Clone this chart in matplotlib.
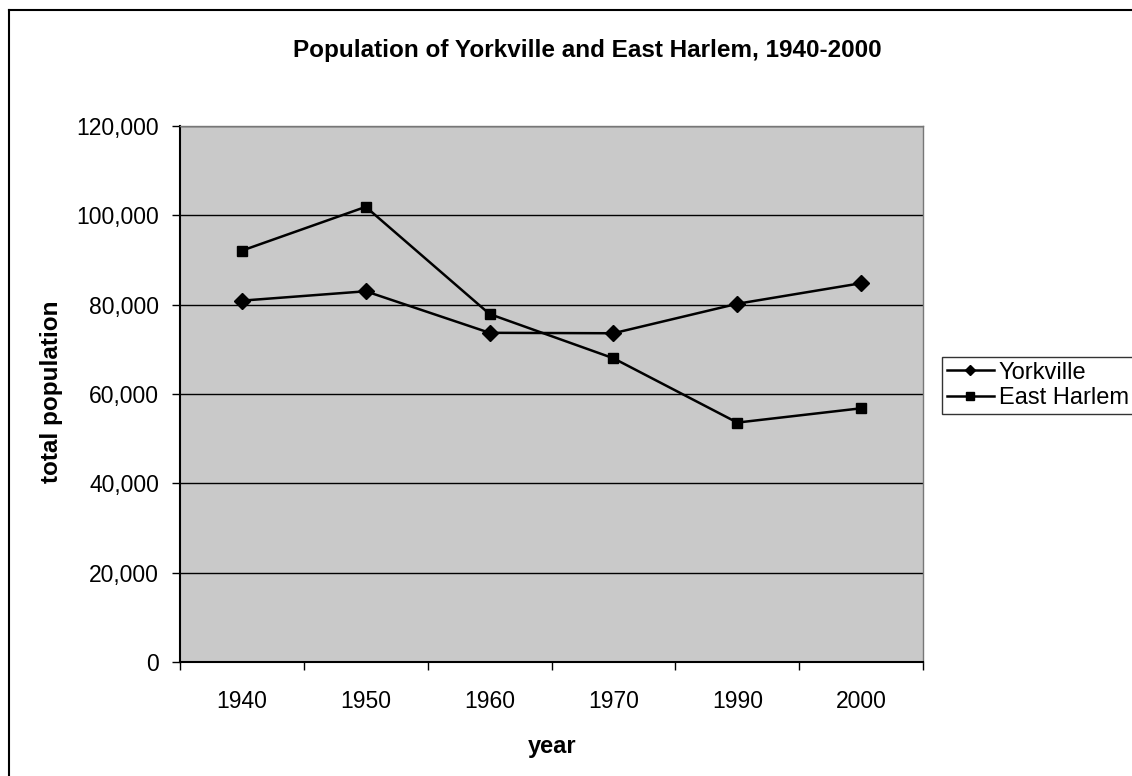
import matplotlib.pyplot as plt
from matplotlib.lines import Line2D
from matplotlib.ticker import FuncFormatter

plt.rcParams['font.family'] = ['Liberation Sans', 'DejaVu Sans']

years = ['1940', '1950', '1960', '1970', '1990', '2000']
yorkville = [80900, 83000, 73700, 73600, 80200, 84800]
east_harlem = [92100, 101900, 77900, 68000, 53600, 56800]

W, H = 1132, 776
fig = plt.figure(figsize=(W / 100, H / 100), dpi=100)
fig.patch.set_facecolor('white')

# outer chart border (left and top edges only show)
fig.add_artist(Line2D([9 / W, 9 / W], [0, 1 - 10 / H], transform=fig.transFigure,
                      color='black', lw=1.5))
fig.add_artist(Line2D([9 / W, 1], [1 - 10 / H, 1 - 10 / H], transform=fig.transFigure,
                      color='black', lw=1.5))

ax = fig.add_axes([180 / W, 1 - 662 / H, (923 - 180) / W, (662 - 126) / H])
ax.set_facecolor('#c9c9c9')

x = list(range(len(years)))
ax.plot(x, yorkville, color='black', lw=1.8, marker='D', markersize=8,
        label='Yorkville', zorder=3)
ax.plot(x, east_harlem, color='black', lw=1.8, marker='s', markersize=7.5,
        label='East Harlem', zorder=3)

ax.set_ylim(0, 120000)
ax.set_yticks(range(0, 120001, 20000))
ax.yaxis.set_major_formatter(FuncFormatter(lambda v, p: f'{int(v):,}'))
ax.grid(axis='y', color='black', lw=1.0)
ax.set_axisbelow(True)

ax.set_xlim(-0.5, len(years) - 0.5)
ax.set_xticks(x)
ax.set_xticklabels(years)
ax.set_xticks([i - 0.5 for i in range(len(years) + 1)], minor=True)
ax.tick_params(axis='x', which='major', length=0, pad=20, labelsize=16.5)
ax.tick_params(axis='x', which='minor', length=6, width=1, color='black')
ax.tick_params(axis='y', length=6, width=1, pad=9, labelsize=16.5)

for side in ('left', 'bottom'):
    ax.spines[side].set_color('black')
    ax.spines[side].set_linewidth(1.5)
for side in ('top', 'right'):
    ax.spines[side].set_color('#777777')
    ax.spines[side].set_linewidth(1.0)
    ax.spines[side].set_linestyle((0, (2, 1)))

fig.text(587 / W, 1 - 50 / H, 'Population of Yorkville and East Harlem, 1940-2000',
         ha='center', va='center', fontsize=17.5, fontweight='bold')
fig.text(552 / W, 1 - 746 / H, 'year', ha='center', va='center',
         fontsize=17, fontweight='bold')
fig.text(52 / W, 1 - 392 / H, 'total population', ha='center', va='center',
         rotation=90, fontsize=17.5, fontweight='bold')

leg = fig.legend(loc='upper left', bbox_to_anchor=(942 / W, 1 - 357 / H),
                 frameon=True, fancybox=False, fontsize=17, handlelength=2.0,
                 handletextpad=0.2, borderpad=0.2, labelspacing=0.15,
                 borderaxespad=0, markerscale=0.7)
leg.get_frame().set_edgecolor('black')
leg.get_frame().set_linewidth(1.0)

fig.savefig('out.png', dpi=100)
